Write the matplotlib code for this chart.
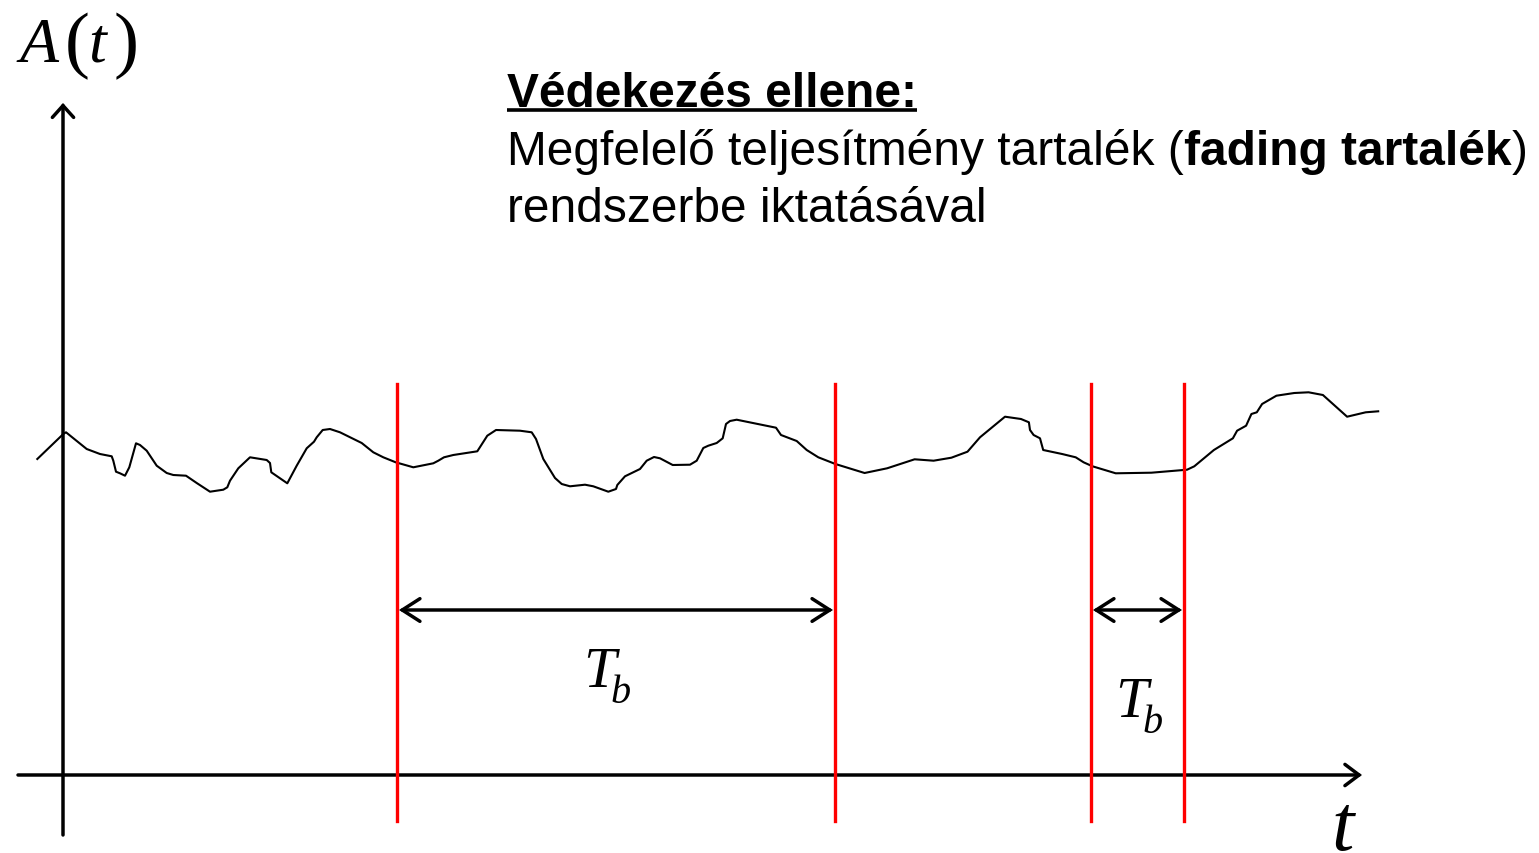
import matplotlib
matplotlib.use("Agg")
import matplotlib.pyplot as plt
from matplotlib.patches import FancyArrowPatch

SERIF = "Liberation Serif"
SANS = "Liberation Sans"

# Fading envelope A(t), sampled along the time axis (x) with amplitude as screen height (y)
curve_t = [37.3, 63.3, 66.0, 86.7, 100.0, 111.7, 113.3, 116.0, 120.0, 125.0, 129.3, 136.0,
           140.0, 146.7, 156.7, 166.7, 173.3, 186.0, 196.7, 210.0, 223.3, 227.3, 230.0,
           238.3, 250.0, 266.7, 270.0, 271.3, 287.3, 296.7, 306.7, 314.0, 316.7, 322.7,
           330.0, 340.0, 361.7, 373.3, 383.3, 395.7, 413.3, 433.3, 438.3, 444.0, 453.3,
           477.3, 487.3, 496.0, 520.0, 531.7, 536.0, 543.3, 555.0, 561.7, 570.0, 585.0,
           593.3, 608.3, 616.0, 617.3, 625.0, 640.0, 646.7, 654.0, 660.0, 672.7, 690.0,
           696.7, 703.3, 708.3, 716.7, 722.7, 726.0, 730.0, 736.7, 776.0, 781.0, 796.7,
           806.7, 818.3, 835.4, 864.6, 887.1, 914.6, 933.6, 951.4, 967.5, 980.0, 1005.0,
           1021.0, 1028.9, 1030.0, 1033.6, 1040.0, 1043.2, 1062.1, 1075.7, 1083.6, 1092.5,
           1115.7, 1151.4, 1187.1, 1194.3, 1213.9, 1232.9, 1237.1, 1246.1, 1251.4, 1256.8,
           1262.1, 1276.4, 1294.3, 1308.6, 1322.9, 1347.1, 1365.7, 1378.2]
curve_a = [460.0, 435.0, 433.3, 450.0, 455.0, 457.3, 461.7, 472.7, 474.3, 476.7, 468.3, 444.3,
           446.0, 451.7, 466.7, 474.0, 476.0, 476.7, 484.0, 492.7, 490.7, 488.3, 481.7,
           469.3, 458.3, 461.0, 464.0, 473.3, 484.3, 466.7, 449.3, 442.7, 438.3, 431.0,
           430.0, 433.3, 444.0, 453.3, 458.3, 463.3, 468.3, 464.3, 461.7, 458.3, 456.0,
           452.3, 436.7, 431.0, 431.7, 433.3, 440.0, 460.0, 479.0, 485.0, 487.3, 485.7,
           487.3, 492.7, 490.0, 486.0, 477.3, 470.0, 461.7, 458.0, 459.3, 466.0, 465.7,
           461.7, 449.0, 446.7, 444.0, 439.3, 425.0, 422.0, 420.7, 428.7, 436.0, 442.0,
           451.0, 458.3, 465.0, 474.0, 469.3, 460.3, 461.7, 458.7, 452.7, 438.3, 417.7,
           420.0, 423.3, 431.0, 436.0, 439.3, 451.0, 455.0, 458.3, 463.3, 467.3,
           474.3, 473.7, 470.7, 467.3, 451.0, 439.3, 431.7, 426.7, 415.0, 413.3,
           405.0, 396.7, 394.0, 393.3, 396.0, 417.7, 413.3, 412.3]

# Boundaries of the deep-fade intervals and their duration labels
fade_edges = [397, 835, 1091, 1184]
spans = [(397, 835), (1091, 1184)]
span_label_pos = [(583, 687), (1115, 717)]

heading = "Védekezés ellene:"
line2_parts = [("Megfelelő teljesítmény tartalék (", "normal"),
               ("fading tartalék", "bold"),
               (")", "normal")]
line3 = "rendszerbe iktatásával"

fig = plt.figure(figsize=(15.39, 8.54), dpi=100)
ax = fig.add_axes([0, 0, 1, 1])
ax.set_xlim(0, 1539)
ax.set_ylim(854, 0)
ax.axis("off")

LW = 2.5

# Axes with open arrow heads
ax.add_patch(FancyArrowPatch((63, 836), (63, 104), arrowstyle="->,head_length=0.5,head_width=0.45",
                             mutation_scale=17, lw=LW, color="black", shrinkA=0, shrinkB=0,
                             joinstyle="miter"))
ax.add_patch(FancyArrowPatch((18, 776), (1362, 776), arrowstyle="->,head_length=0.6,head_width=0.45",
                             mutation_scale=17, lw=LW, color="black", shrinkA=0, shrinkB=0,
                             joinstyle="miter"))

# Envelope
ax.plot(curve_t, curve_a, color="black", lw=1.5, solid_joinstyle="round")

# Fade interval boundaries
for x in fade_edges:
    ax.plot([x, x], [385, 822], color="#ff0000", lw=2.4)

# Duration arrows with T_b labels
for (x0, x1), (lx, ly) in zip(spans, span_label_pos):
    ax.add_patch(FancyArrowPatch((x0 + 2, 611), (x1 - 2, 611),
                                 arrowstyle="<->,head_length=0.75,head_width=0.48",
                                 mutation_scale=17, lw=LW, color="black",
                                 shrinkA=0, shrinkB=0, joinstyle="miter"))
    ax.text(lx, ly, "T", fontsize=42, family=SERIF, style="italic", ha="left", va="baseline")
    ax.text(lx + 27, ly + 16, "b", fontsize=29, family=SERIF, style="italic",
            ha="left", va="baseline")

# Axis labels: A(t) with upright, taller parentheses
ax.text(19, 62, "A", fontsize=46, family=SERIF, style="italic", ha="left", va="baseline")
ax.text(65, 64, "(", fontsize=54, family=SERIF, ha="left", va="baseline")
ax.text(88, 62, "t", fontsize=46, family=SERIF, style="italic", ha="left", va="baseline")
ax.text(114, 64, ")", fontsize=54, family=SERIF, ha="left", va="baseline")
ax.text(1331, 850, "t", fontsize=58, family=SERIF, style="italic", ha="left", va="baseline")

# Annotation block
fs = 34.5
renderer = fig.canvas.get_renderer()
h = ax.text(507, 107, heading, fontsize=fs, fontweight="bold", family=SANS,
            ha="left", va="baseline")
bb = h.get_window_extent(renderer).transformed(ax.transData.inverted())
ax.plot([507, max(bb.x0, bb.x1)], [111, 111], color="black", lw=2.6, solid_capstyle="butt")

x = 507
for txt, wt in line2_parts:
    t = ax.text(x, 165, txt, fontsize=fs, fontweight=wt, family=SANS,
                ha="left", va="baseline")
    b = t.get_window_extent(renderer).transformed(ax.transData.inverted())
    x = max(b.x0, b.x1)
ax.text(507, 222, line3, fontsize=fs, family=SANS, ha="left", va="baseline")

fig.savefig("out.png", dpi=100)
